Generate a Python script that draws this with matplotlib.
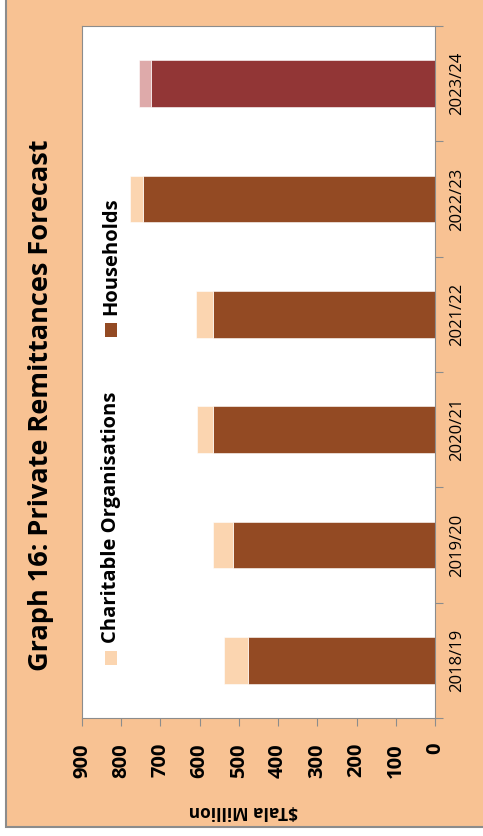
import matplotlib
matplotlib.use('Agg')
import matplotlib.pyplot as plt
from matplotlib.patches import Rectangle
import numpy as np

# data ($Tala million)
years = ['2018/19', '2019/20', '2020/21', '2021/22', '2022/23', '2023/24']
households = [476, 514, 565, 567, 744, 724]
charitable = [62, 53, 41, 42, 34, 31]
value_ticks = [0, 100, 200, 300, 400, 500, 600, 700, 800, 900]

peach = '#F8C293'
hh_colors = ['#934A23'] * 5 + ['#923636']
ch_colors = ['#FBD5B0'] * 5 + ['#DEAAAA']
W, H = 483, 836

plt.rcParams['font.family'] = ['Open Sans', 'DejaVu Sans']

fig = plt.figure(figsize=(W / 100, H / 100), dpi=100)
fig.patch.set_facecolor('white')
# peach frame behind everything (only left and bottom edges show)
fig.patches.append(Rectangle((6 / W, 1 - 827 / H), 1, 1, transform=fig.transFigure,
                             facecolor=peach, edgecolor='#8c8c8c', lw=1.5, zorder=-1))

# the chart is turned on its side: values run right to left
ax = fig.add_axes([82 / W, 1 - 718 / H, (435 - 82) / W, (718 - 26) / H])
ax.set_facecolor('white')
y = np.arange(len(years))
ax.barh(y, households, height=0.405, color=hh_colors, edgecolor='white', lw=0.4)
ax.barh(y, charitable, left=households, height=0.405, color=ch_colors, edgecolor='white', lw=0.4)

ax.set_xlim(900, 0)
ax.set_ylim(-0.5, len(years) - 0.5)
for s in ax.spines.values():
    s.set_color('#8c8c8c')

ax.set_xticks(value_ticks)
ax.set_xticklabels([str(v) for v in value_ticks], rotation=90, fontsize=14.5, fontweight='bold')
ax.tick_params(axis='x', direction='out', length=6, color='#8c8c8c', pad=12)

ax.yaxis.tick_right()
ax.set_yticks(np.arange(len(years) + 1) - 0.5)
ax.set_yticklabels([])
ax.set_yticks(y, minor=True)
ax.set_yticklabels(years, minor=True, rotation=90, fontsize=12, va='center')
ax.tick_params(axis='y', which='major', direction='out', length=6, color='#8c8c8c')
ax.tick_params(axis='y', which='minor', length=0, pad=10)

# title, axis name and legend (rotated like the rest)
fig.text(41 / W, 1 - 405 / H, 'Graph 16: Private Remittances Forecast', rotation=90,
         fontsize=19.5, fontweight='bold', ha='center', va='center')
fig.text(243 / W, 1 - 811 / H, '$Tala Million', rotation=180, fontsize=12.5,
         fontweight='bold', ha='center', va='center')

fig.patches.append(Rectangle((105 / W, 1 - 665 / H), 12 / W, 14 / H, transform=fig.transFigure,
                             facecolor=ch_colors[0], edgecolor='none'))
fig.text(111 / W, 1 - 643 / H, 'Charitable Organisations', rotation=90, fontsize=14.5,
         fontweight='bold', ha='center', va='bottom')
fig.patches.append(Rectangle((105 / W, 1 - 337 / H), 12 / W, 14 / H, transform=fig.transFigure,
                             facecolor=hh_colors[0], edgecolor='none'))
fig.text(111 / W, 1 - 315 / H, 'Households', rotation=90, fontsize=14.5,
         fontweight='bold', ha='center', va='bottom')

fig.savefig('out.png', dpi=100, facecolor=fig.get_facecolor())
